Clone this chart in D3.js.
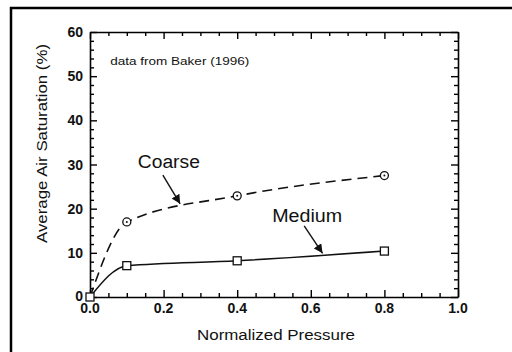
<!DOCTYPE html>
<html>
<head>
<meta charset="utf-8">
<script src="https://cdn.jsdelivr.net/npm/d3@7"></script>
<style>
    body { margin: 0; background: #fff; }
    text { font-family: "Liberation Sans", Arial, sans-serif; fill: #111; }
    .tick-label { font-size: 14px; font-weight: bold; }
    .axis-title { font-size: 15.5px; }
    .series-label { font-size: 18px; }
    .note { font-size: 11px; }
</style>
</head>
<body>
<div id="chart"></div>
<script>
// values
var pressure = [0.0, 0.1, 0.4, 0.8];
var coarse = [0.0, 17.0, 22.9, 27.5];
var medium = [0.0, 7.1, 8.2, 10.4];
var xTicks = [0.0, 0.2, 0.4, 0.6, 0.8, 1.0];
var yTicks = [0, 10, 20, 30, 40, 50, 60];

var width = 512,
    height = 352,
    margin = { top: 32, right: 54, bottom: 55, left: 90 };

var chartWidth = width - margin.left - margin.right,
    chartHeight = height - margin.top - margin.bottom;

var svg = d3.select('#chart').append('svg')
    .attr('width', width)
    .attr('height', height);

// scanned page frame (left and top edge only)
svg.append('path')
    .attr('d', 'M11,' + height + 'V8H' + width)
    .attr('fill', 'none')
    .attr('stroke', '#000')
    .attr('stroke-width', 2.5);

var g = svg.append('g')
    .attr('transform', 'translate(' + margin.left + ',' + margin.top + ')');

var xScale = d3.scaleLinear().domain([0, 1]).range([0, chartWidth]);
var yScale = d3.scaleLinear().domain([0, 60]).range([chartHeight, 0]);

var xMinor = d3.range(0, 1.0001, 0.05);
var yMinor = d3.range(0, 60.001, 2);

function isMajorX(d) { return Math.abs(d * 5 - Math.round(d * 5)) < 1e-6; }
function isMajorY(d) { return d % 10 === 0; }

// inward ticks on all four sides
g.append('g')
    .attr('transform', 'translate(0,' + chartHeight + ')')
    .call(d3.axisTop(xScale).tickValues(xMinor).tickFormat('').tickSizeOuter(0)
        .tickSizeInner(0))
    .call(function (a) {
        a.selectAll('.tick line').attr('y2', function (d) { return isMajorX(d) ? -7 : -4; });
    });
g.append('g')
    .call(d3.axisBottom(xScale).tickValues(xMinor).tickFormat('').tickSizeOuter(0)
        .tickSizeInner(0))
    .call(function (a) {
        a.selectAll('.tick line').attr('y2', function (d) { return isMajorX(d) ? 7 : 4; });
    });
g.append('g')
    .call(d3.axisRight(yScale).tickValues(yMinor).tickFormat('').tickSizeOuter(0)
        .tickSizeInner(0))
    .call(function (a) {
        a.selectAll('.tick line').attr('x2', function (d) { return isMajorY(d) ? 7 : 4; });
    });
g.append('g')
    .attr('transform', 'translate(' + chartWidth + ',0)')
    .call(d3.axisLeft(yScale).tickValues(yMinor).tickFormat('').tickSizeOuter(0)
        .tickSizeInner(0))
    .call(function (a) {
        a.selectAll('.tick line').attr('x2', function (d) { return isMajorY(d) ? -7 : -4; });
    });

g.selectAll('.domain').attr('stroke', '#000').attr('stroke-width', 1.6);
g.selectAll('.tick line').attr('stroke', '#000').attr('stroke-width', 1.4);

// tick labels
g.selectAll('.x-label').data(xTicks).enter()
    .append('text')
    .attr('class', 'tick-label')
    .attr('x', function (d) { return xScale(d); })
    .attr('y', chartHeight + 16)
    .attr('text-anchor', 'middle')
    .text(function (d) { return d.toFixed(1); });

g.selectAll('.y-label').data(yTicks).enter()
    .append('text')
    .attr('class', 'tick-label')
    .attr('x', -7)
    .attr('y', function (d) { return yScale(d) + (d === 0 ? 4 : 5); })
    .attr('text-anchor', 'end')
    .text(function (d) { return d; });

// axis titles (the scan is a little wider than the font)
svg.append('text')
    .attr('class', 'axis-title')
    .attr('x', 197)
    .attr('y', 340)
    .attr('textLength', 158)
    .attr('lengthAdjust', 'spacingAndGlyphs')
    .text('Normalized Pressure');

svg.append('text')
    .attr('class', 'axis-title')
    .attr('transform', 'translate(47,243) rotate(-90)')
    .attr('textLength', 199)
    .attr('lengthAdjust', 'spacingAndGlyphs')
    .text('Average Air Saturation  (%)');

g.append('text')
    .attr('class', 'note')
    .attr('x', xScale(0.055))
    .attr('y', yScale(52.6))
    .attr('textLength', 139)
    .attr('lengthAdjust', 'spacingAndGlyphs')
    .text('data from Baker (1996)');

// curves
var line = d3.line()
    .x(function (d) { return xScale(d[0]); })
    .y(function (d) { return yScale(d[1]); })
    .curve(d3.curveMonotoneX);

var coarsePts = pressure.map(function (p, i) { return [p, coarse[i]]; });
var mediumPts = pressure.map(function (p, i) { return [p, medium[i]]; });

g.append('path')
    .attr('d', line(coarsePts))
    .attr('fill', 'none')
    .attr('stroke', '#111')
    .attr('stroke-width', 1.6)
    .attr('stroke-dasharray', '10 6');

g.append('path')
    .attr('d', line(mediumPts))
    .attr('fill', 'none')
    .attr('stroke', '#111')
    .attr('stroke-width', 1.5);

// markers
g.selectAll('.coarse-pt').data(coarsePts.slice(1)).enter()
    .append('circle')
    .attr('cx', function (d) { return xScale(d[0]); })
    .attr('cy', function (d) { return yScale(d[1]); })
    .attr('r', 4)
    .attr('fill', '#fff')
    .attr('stroke', '#111')
    .attr('stroke-width', 1.3);
g.selectAll('.coarse-dot').data(coarsePts.slice(1)).enter()
    .append('circle')
    .attr('cx', function (d) { return xScale(d[0]); })
    .attr('cy', function (d) { return yScale(d[1]); })
    .attr('r', 1)
    .attr('fill', '#111');

g.selectAll('.medium-pt').data(mediumPts).enter()
    .append('rect')
    .attr('x', function (d) { return xScale(d[0]) - 4; })
    .attr('y', function (d) { return yScale(d[1]) - 4; })
    .attr('width', 8)
    .attr('height', 8)
    .attr('fill', '#fff')
    .attr('stroke', '#111')
    .attr('stroke-width', 1.3);

// labels with arrows
svg.append('defs').append('marker')
    .attr('id', 'head')
    .attr('viewBox', '0 0 10 10')
    .attr('refX', 10)
    .attr('refY', 5)
    .attr('markerWidth', 9)
    .attr('markerHeight', 9)
    .attr('markerUnits', 'userSpaceOnUse')
    .attr('orient', 'auto')
    .append('path')
    .attr('d', 'M0,0L10,5L0,10z')
    .attr('fill', '#111');

var notes = [
    { text: 'Coarse', x: 0.13, y: 29.2, w: 62, from: [0.198, 27.6], to: [0.245, 21.1] },
    { text: 'Medium', x: 0.495, y: 17.0, w: 70, from: [0.582, 16.1], to: [0.632, 9.9] }
];

notes.forEach(function (n) {
    g.append('text')
        .attr('class', 'series-label')
        .attr('x', xScale(n.x))
        .attr('y', yScale(n.y))
        .attr('textLength', n.w)
        .attr('lengthAdjust', 'spacingAndGlyphs')
        .text(n.text);
    g.append('line')
        .attr('x1', xScale(n.from[0]))
        .attr('y1', yScale(n.from[1]))
        .attr('x2', xScale(n.to[0]))
        .attr('y2', yScale(n.to[1]))
        .attr('stroke', '#111')
        .attr('stroke-width', 1.4)
        .attr('marker-end', 'url(#head)');
});
</script>
</body>
</html>
